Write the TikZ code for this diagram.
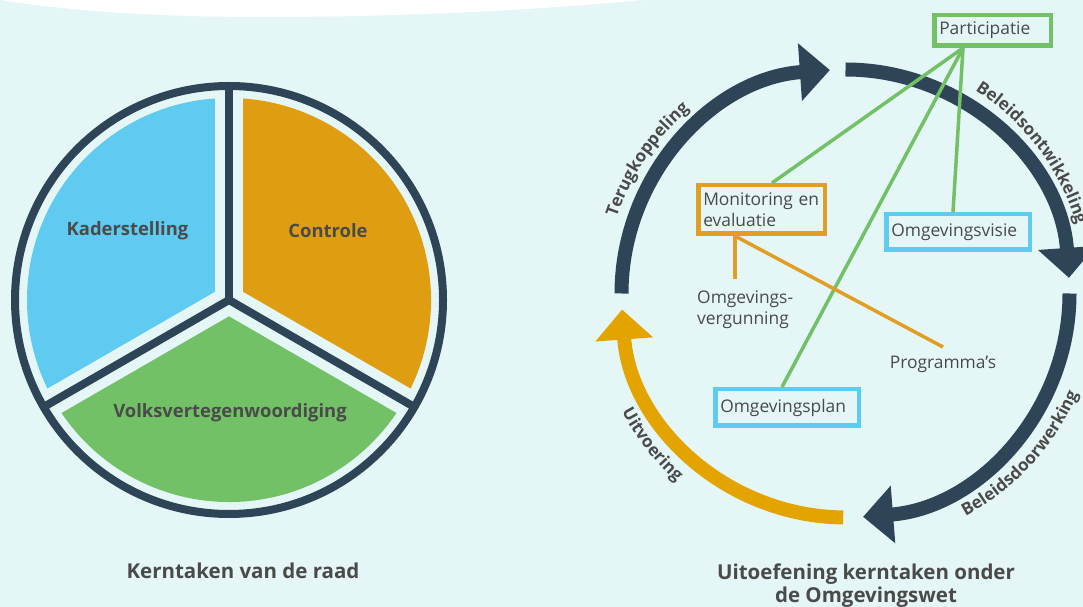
\documentclass[tikz,border=0pt]{standalone}
\usepackage{fontspec}
\setmainfont{Open Sans}
\usetikzlibrary{arrows.meta,calc,decorations.text}

\definecolor{bgcyan}{HTML}{E4F6F6}
\definecolor{slate}{HTML}{2D4556}
\definecolor{skyblue}{HTML}{5FCBF0}
\definecolor{amber}{HTML}{DF9E12}
\definecolor{arrowamber}{HTML}{E3A400}
\definecolor{boxamber}{HTML}{E09F24}
\definecolor{leafgreen}{HTML}{72C167}
\definecolor{textgrey}{HTML}{4A4A4A}

\newcommand\boxfont{\fontsize{17.4}{21}\selectfont}
\newcommand\labelfont{\fontsize{18.4}{22}\selectfont\bfseries}
\newcommand\titlefont{\fontsize{20.5}{24}\selectfont\bfseries}
\newcommand\arcfont{\fontsize{17}{17}\selectfont\bfseries}

\begin{document}
\begin{tikzpicture}
[x=1pt,y=1pt,
  framedecorate/.style={draw=#1,line width=4.5pt,inner xsep=5pt,inner ysep=0pt,
    align=left,font=\boxfont,text=textgrey},
  plaindecorate/.style={inner sep=0pt,align=left,font=\boxfont,text=textgrey},
  piedecorate/.style={font=\labelfont,text=textgrey},
  titledecorate/.style={font=\titlefont,text=textgrey,anchor=base,align=center},
  linkdecorate/.style={draw=#1,line width=3.5pt},
  arcdecorate/.style={draw=#1,line width=14pt,-{Triangle[length=30pt,width=56pt]}},
  arctextdecorate/.style={decorate,decoration={text along path,text align=center,
    text color=textgrey,text={|\arcfont|#1}}}]
%% canvas
\useasboundingbox (0,0) rectangle (1083,607);
\fill[bgcyan] (0,0) rectangle (1083,607);
\fill[white] (0,607) .. controls (90,593) and (180,590) .. (270,590)
  .. controls (400,590) and (540,597) .. (642,607) -- cycle;

%% left: pie of the council
\coordinate (pie) at (229,307);
\foreach \from/\upto/\shade in {90/210/skyblue, -30/90/amber, 210/330/leafgreen}
{
  \fill[\shade] (pie) -- ($(pie)+(\from:202)$)
    arc[start angle=\from,end angle=\upto,radius=202] -- cycle;
}
\foreach \spoke in {90,210,330}
  \draw[bgcyan,line width=28pt] (pie) -- ++(\spoke:209);
\foreach \spoke in {90,210,330}
  \draw[slate,line width=8pt,line cap=round] (pie) -- ++(\spoke:212);
\draw[slate,line width=8pt] (pie) circle[radius=214];
\node (kader) at (127.5,376) [piedecorate] {Kaderstelling};
\node (contr) at (328,376) [piedecorate] {Controle};
\node (volks) at (230,194) [piedecorate] {Volksvertegenwoordiging};
\node (raadtitle) at (243,28) [titledecorate] {Kerntaken van de raad};

%% right: cycle of the Omgevingswet
\coordinate (cen) at (845.5,313.5);
\foreach \from/\upto/\shade in {180/94/slate, 90/4/slate, 0/-85.5/slate,
  -90.6/-175.9/arrowamber}
{
  \draw[arcdecorate=\shade] ($(cen)+(\from:224)$)
    arc[start angle=\from,end angle=\upto,radius=224];
}
\path[arctextdecorate=Terugkoppeling] ($(cen)+(186:241)$)
  arc[start angle=186,end angle=106,radius=241];
\path[arctextdecorate=Beleidsontwikkeling] ($(cen)+(77:241)$)
  arc[start angle=77,end angle=-3,radius=241];
\path[arctextdecorate=Beleidsdoorwerking] ($(cen)+(-82.5:253)$)
  arc[start angle=-82.5,end angle=-2.5,radius=253];
\path[arctextdecorate=Uitvoering] ($(cen)+(178:253)$)
  arc[start angle=178,end angle=258,radius=253];

%% instruments
\foreach \nodename/\x/\y/\framecolor/\inner/\high/\caption in {
  part/992.5/576.5/leafgreen/106.5/30.5/{Participatie},
  mon/761.5/397.5/boxamber/116.5/48.5/{Monitoring~en\\evaluatie},
  visie/958/375/skyblue/133.5/35.5/{Omgevingsvisie},
  plan/787/199.5/skyblue/133.5/36.5/{Omgevingsplan}}
{
  \node (\nodename) at (\x,\y) [framedecorate=\framecolor,text width=\inner pt,
    minimum height=\high pt] {\caption};
}
\node (verg) at (697,328) [plaindecorate,anchor=north west,inner ysep=12pt]
  {Omgevings-\\vergunning};
\node (prog) at (943,260) [plaindecorate,anchor=north,inner ysep=9pt] {Programma’s};

%% links
\coordinate (hub) at ([xshift=-29.5pt]part.south);
\foreach \endnode/\shift in {mon/10.5, visie/-5, plan/-5}
  \draw[linkdecorate=leafgreen] (hub) -- ([xshift=\shift pt]\endnode.north);
\coordinate (monfoot) at ([xshift=-26.5pt]mon.south);
\draw[linkdecorate=boxamber] (monfoot) -- (monfoot |- verg.north);
\draw[linkdecorate=boxamber] (monfoot) -- (prog.north);

\node (wettitle) at (866,4) [titledecorate]
  {Uitoefening kerntaken onder\\de Omgevingswet};
\end{tikzpicture}
\end{document}
